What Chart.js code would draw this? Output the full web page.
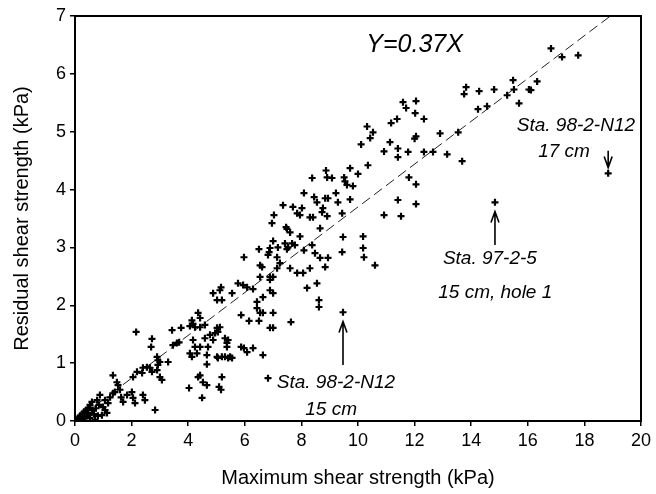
<!DOCTYPE html>
<html>
<head>
<meta charset="utf-8">
<title>Residual vs maximum shear strength</title>
<script src="https://cdn.jsdelivr.net/npm/chart.js@4.4.1/dist/chart.umd.min.js"></script>
<style>
  html, body { margin: 0; padding: 0; background: #fff; }
  canvas { display: block; }
</style>
</head>
<body>
<canvas id="shearChart" width="656" height="494"></canvas>
<script>
// Maximum shear strength (kPa)
const maxShear = [
  0.04, 0.11, 0.18, 0.25, 0.32, 0.39, 0.46, 0.53, 0.60, 0.67, 0.74, 0.35, 0.18, 0.53, 0.71, 0.81, 0.46, 0.60, 0.78, 0.85, 0.88, 0.28, 0.42, 0.30, 0.50, 0.20,
  0.99, 1.06, 1.13, 0.95, 1.17, 1.06, 1.34, 1.48, 1.52, 1.34, 1.24, 1.63, 1.70, 1.84, 2.01, 2.05, 2.12, 1.59, 1.41, 2.05, 2.19, 2.37, 2.40, 2.54,
  2.65, 2.72, 2.90, 2.93, 3.00, 2.90, 2.93, 3.00, 3.07, 3.29, 2.40, 2.47, 2.83, 2.16, 2.72, 2.69, 3.43, 3.75, 3.46, 3.60, 3.68, 4.06, 4.17, 4.13,
  4.35, 4.42, 4.24, 4.42, 4.59, 4.17, 4.24, 4.42, 4.31, 4.13, 4.06, 4.66, 4.70, 4.59, 4.66, 4.42, 4.52, 4.66, 4.35, 4.03, 4.49,
  4.88, 4.77, 4.95, 5.02, 5.05, 5.12, 5.37, 5.30, 5.41, 5.37, 5.19, 5.09, 5.16, 5.02, 5.05, 5.19, 5.30, 5.48, 5.55, 5.41, 5.87, 5.97, 6.08, 6.29,
  6.64, 5.87, 6.15, 6.50, 6.54, 6.64, 7.00, 6.89, 7.00, 6.43, 6.43, 7.63, 5.02, 5.19, 6.82, 8.62, 8.62,
  5.97, 6.50, 6.89, 6.86, 6.82, 7.17, 7.42, 7.53, 7.67, 7.77, 8.09, 7.49, 8.48, 8.66, 8.94, 8.84, 7.14, 7.24, 7.14, 7.00, 6.54, 6.61, 7.60, 7.85,
  8.06, 8.30, 6.54, 6.89, 6.89, 8.20, 8.55, 7.00, 7.60, 7.95, 5.16, 5.12, 4.88, 5.55, 5.76, 5.94, 6.08, 6.29, 6.64, 6.89, 7.00, 8.38,
  8.38, 8.87, 8.91, 8.09, 8.45, 8.84, 8.94, 8.55, 7.35, 7.70, 8.02, 7.85, 7.95, 8.30, 8.41, 8.76, 8.73, 8.91, 7.46, 8.66, 7.03, 6.96, 7.49,
  16.82, 17.21, 17.78, 15.48, 16.33, 16.04, 16.11, 15.51, 15.27, 15.69, 13.82, 13.75, 14.28, 14.81, 14.24, 14.56, 13.54, 12.90,
  11.59, 12.05, 11.70, 12.02, 11.17, 11.38, 12.33, 10.32, 10.53, 10.43, 10.11, 11.13, 12.05, 12.00, 11.41, 11.77, 11.41, 10.92,
  12.33, 12.65, 13.15, 13.68, 10.35, 9.72, 10.00, 9.08, 9.51, 9.54, 9.61, 9.22, 9.72, 9.29, 9.44, 11.80, 12.05, 11.41, 12.05,
  10.92, 11.52, 14.84, 18.84, 9.47, 10.18, 10.18, 9.82,
  9.44, 10.21, 10.60, 9.47
];

// Residual shear strength (kPa), same order
const residualShear = [
  0.02, 0.05, 0.09, 0.12, 0.16, 0.19, 0.22, 0.28, 0.19, 0.12, 0.22, 0.05, 0.02, 0.05, 0.02, 0.09, 0.14, 0.33, 0.36, 0.28, 0.45, 0.03, 0.09, 0.00, 0.10, 0.07,
  0.24, 0.19, 0.14, 0.10, 0.31, 0.36, 0.79, 0.67, 0.62, 0.48, 0.41, 0.41, 0.33, 0.45, 0.50, 0.40, 0.31, 0.54, 0.50, 0.76, 0.85, 0.83, 0.92, 0.93,
  0.92, 0.85, 0.88, 0.97, 1.02, 1.11, 1.05, 0.76, 0.71, 1.02, 0.45, 0.36, 0.19, 1.54, 1.42, 1.28, 1.57, 1.61, 1.31, 1.35, 1.36, 1.64, 1.68, 1.74,
  1.87, 1.78, 1.62, 1.62, 1.66, 1.40, 1.28, 1.28, 1.17, 1.11, 1.17, 1.14, 1.28, 1.43, 0.98, 0.79, 0.67, 0.62, 0.76, 0.57, 0.40,
  1.40, 1.49, 1.52, 1.61, 1.54, 1.62, 1.35, 1.43, 1.40, 1.28, 0.76, 0.59, 0.54, 1.11, 1.09, 1.11, 1.11, 1.11, 1.09, 1.09, 1.28, 1.26, 1.19, 1.26,
  1.14, 1.83, 1.73, 1.73, 1.87, 1.87, 1.87, 1.61, 1.61, 1.95, 2.06, 1.71, 2.09, 2.09, 0.74, 2.09, 1.97,
  2.83, 2.97, 2.99, 2.92, 2.87, 3.00, 3.07, 3.00, 3.07, 3.04, 2.95, 2.97, 2.90, 2.82, 2.82, 2.66, 2.83, 2.73, 2.64, 2.49, 2.69, 2.66, 2.64, 2.56,
  2.56, 2.64, 2.49, 2.49, 2.44, 2.30, 2.38, 3.11, 3.26, 3.19, 2.31, 2.26, 2.21, 2.21, 2.38, 2.35, 2.31, 2.28, 2.14, 2.26, 2.21, 3.04,
  4.20, 4.33, 4.21, 3.94, 3.87, 3.85, 3.85, 3.78, 3.73, 3.70, 3.68, 3.59, 3.56, 3.52, 3.52, 3.68, 3.61, 3.54, 3.35, 3.33, 3.56, 3.42, 3.32,
  6.44, 6.29, 6.32, 5.89, 5.87, 5.73, 5.72, 5.73, 5.63, 5.49, 5.77, 5.65, 5.70, 5.73, 5.39, 5.44, 4.99, 4.97,
  5.51, 5.53, 5.41, 5.32, 5.15, 5.22, 5.22, 5.09, 4.99, 4.89, 4.78, 4.82, 4.92, 4.88, 4.71, 4.65, 4.56, 4.66,
  4.65, 4.65, 4.61, 4.49, 4.42, 4.37, 4.27, 4.20, 4.21, 4.14, 4.08, 3.94, 3.83, 3.78, 3.59, 4.21, 4.09, 3.82, 3.75,
  3.56, 3.54, 3.78, 4.28, 3.18, 3.19, 2.99, 4.06,
  2.92, 2.83, 2.69, 1.88
];

// Fitted line Y = 0.37X
const fitSlope = 0.37;
const fitX = [0, 20];

const xTicks = [0, 2, 4, 6, 8, 10, 12, 14, 16, 18, 20];
const yTicks = [0, 1, 2, 3, 4, 5, 6, 7];

// Text notes and arrows on the plot (data coordinates)
const notes = [
  { text: 'Y=0.37X', x: 12.0, y: 6.5, size: 25 },
  { text: 'Sta. 98-2-N12', x: 17.7, y: 5.11, size: 19 },
  { text: '17 cm', x: 17.28, y: 4.65, size: 19 },
  { text: 'Sta. 97-2-5', x: 14.66, y: 2.80, size: 19 },
  { text: '15 cm, hole 1', x: 14.85, y: 2.22, size: 19 },
  { text: 'Sta. 98-2-N12', x: 9.22, y: 0.67, size: 19 },
  { text: '15 cm', x: 9.05, y: 0.20, size: 19 }
];
const arrows = [
  { x: 18.84, from: 4.67, to: 4.38 },
  { x: 14.84, from: 3.04, to: 3.62 },
  { x: 9.47, from: 0.97, to: 1.72 }
];

const points = maxShear.map((x, i) => ({ x: x, y: residualShear[i] }));
const fitLine = fitX.map(x => ({ x: x, y: fitSlope * x }));

const fontName = '"Liberation Sans", Arial, sans-serif';

// draws the frame, the notes and the arrows
const notesPlugin = {
  id: 'notes',
  afterDatasetsDraw(chart) {
    const ctx = chart.ctx;
    const xs = chart.scales.x;
    const ys = chart.scales.y;
    const area = chart.chartArea;

    ctx.save();
    ctx.strokeStyle = '#000';
    ctx.lineWidth = 2;
    ctx.strokeRect(area.left, area.top, area.right - area.left, area.bottom - area.top);

    ctx.fillStyle = '#000';
    ctx.textAlign = 'center';
    ctx.textBaseline = 'middle';
    notes.forEach(n => {
      ctx.font = 'italic ' + n.size + 'px ' + fontName;
      ctx.fillText(n.text, xs.getPixelForValue(n.x), ys.getPixelForValue(n.y));
    });

    ctx.lineWidth = 1.6;
    arrows.forEach(a => {
      const px = xs.getPixelForValue(a.x);
      const y0 = ys.getPixelForValue(a.from);
      const y1 = ys.getPixelForValue(a.to);
      const dir = y1 < y0 ? 1 : -1;
      ctx.beginPath();
      ctx.moveTo(px, y0);
      ctx.lineTo(px, y1);
      ctx.moveTo(px - 4, y1 + dir * 11);
      ctx.lineTo(px, y1);
      ctx.lineTo(px + 4, y1 + dir * 11);
      ctx.stroke();
    });
    ctx.restore();
  }
};

const ctx = document.getElementById('shearChart').getContext('2d');
const shearChart = new Chart(ctx, {
  type: 'scatter',
  data: {
    datasets: [
      {
        label: 'Measurements',
        data: points,
        pointStyle: 'cross',
        pointRadius: 3.5,
        borderColor: '#000',
        backgroundColor: '#000',
        pointBorderWidth: 2.2
      },
      {
        label: 'Y=0.37X',
        type: 'line',
        data: fitLine,
        borderColor: '#222',
        borderWidth: 1,
        borderDash: [10, 5],
        pointRadius: 0,
        fill: false
      }
    ]
  },
  options: {
    responsive: false,
    animation: false,
    layout: { padding: { top: 16, right: 15, left: 0, bottom: 0 } },
    plugins: {
      legend: { display: false },
      tooltip: { enabled: false }
    },
    scales: {
      x: {
        type: 'linear',
        min: 0,
        max: 20,
        afterBuildTicks: scale => { scale.ticks = xTicks.map(v => ({ value: v })); },
        afterFit: scale => { scale.height = 73; },
        grid: { drawOnChartArea: false, color: '#000', tickLength: 5, lineWidth: 1.5 },
        border: { color: '#000', width: 2 },
        ticks: { color: '#000', padding: 4, font: { family: fontName, size: 18 } },
        title: {
          display: true,
          text: 'Maximum shear strength (kPa)',
          color: '#000',
          padding: { top: 0, bottom: 4 },
          font: { family: fontName, size: 20 }
        }
      },
      y: {
        type: 'linear',
        min: 0,
        max: 7,
        afterBuildTicks: scale => { scale.ticks = yTicks.map(v => ({ value: v })); },
        afterFit: scale => { scale.width = 75; },
        grid: { drawOnChartArea: false, color: '#000', tickLength: 5, lineWidth: 1.5 },
        border: { color: '#000', width: 2 },
        ticks: { color: '#000', padding: 4, font: { family: fontName, size: 18 } },
        title: {
          display: true,
          text: 'Residual shear strength (kPa)',
          color: '#000',
          padding: { top: 10, bottom: 0 },
          font: { family: fontName, size: 20 }
        }
      }
    }
  },
  plugins: [notesPlugin]
});
</script>
</body>
</html>
